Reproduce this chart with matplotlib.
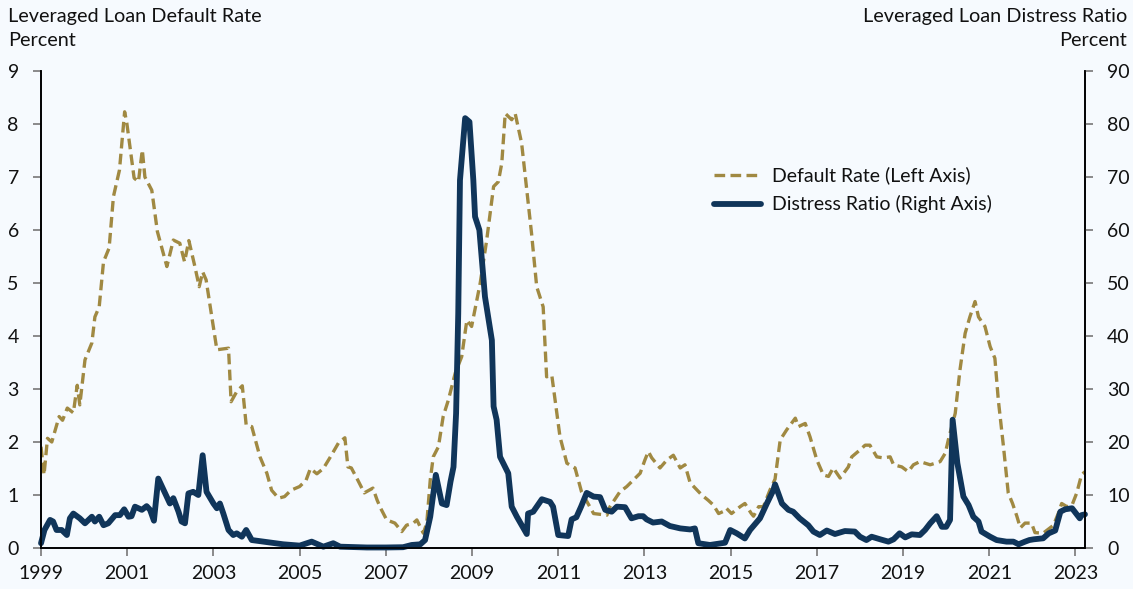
import matplotlib
matplotlib.use("Agg")
import matplotlib.pyplot as plt
import numpy as np

# Leveraged loan default rate (percent, left axis)
default_years = [1999.0, 1999.07, 1999.15, 1999.25, 1999.42, 1999.5, 1999.61, 1999.75, 1999.84, 1999.9,
                 2000.02, 2000.18, 2000.25, 2000.35, 2000.45, 2000.58, 2000.68, 2000.82, 2000.94, 2000.99,
                 2001.16, 2001.26, 2001.35, 2001.41, 2001.57, 2001.7, 2001.92, 2002.07, 2002.22, 2002.33,
                 2002.43, 2002.57, 2002.67, 2002.75, 2002.83, 2003.08, 2003.35, 2003.41, 2003.54, 2003.67,
                 2003.76, 2003.89, 2004.08, 2004.24, 2004.35, 2004.51, 2004.65, 2004.8, 2005.0, 2005.15,
                 2005.25, 2005.4, 2005.55, 2005.7, 2005.9, 2006.05, 2006.12, 2006.2, 2006.35, 2006.5,
                 2006.7, 2006.8, 2006.88, 2007.02, 2007.21, 2007.37, 2007.48, 2007.64, 2007.72, 2007.87,
                 2007.95, 2008.03, 2008.1, 2008.22, 2008.33, 2008.45, 2008.61, 2008.76, 2008.88, 2008.99,
                 2009.19, 2009.34, 2009.5, 2009.61, 2009.69, 2009.77, 2009.92, 2010.0, 2010.15, 2010.27,
                 2010.38, 2010.5, 2010.65, 2010.73, 2010.85, 2011.04, 2011.2, 2011.39, 2011.54, 2011.82,
                 2012.13, 2012.2, 2012.43, 2012.59, 2012.74, 2012.9, 2013.01, 2013.09, 2013.17, 2013.36,
                 2013.52, 2013.67, 2013.83, 2013.94, 2014.06, 2014.33, 2014.48, 2014.6, 2014.72, 2014.83,
                 2014.9, 2015.02, 2015.22, 2015.33, 2015.48, 2015.53, 2015.65, 2015.76, 2015.91, 2016.03,
                 2016.15, 2016.3, 2016.5, 2016.57, 2016.73, 2016.84, 2017.0, 2017.15, 2017.27, 2017.38,
                 2017.54, 2017.73, 2017.81, 2018.0, 2018.12, 2018.23, 2018.39, 2018.54, 2018.7, 2018.78,
                 2018.97, 2019.12, 2019.24, 2019.39, 2019.63, 2019.86, 2019.98, 2020.05, 2020.21, 2020.32,
                 2020.44, 2020.55, 2020.67, 2020.75, 2020.9, 2021.02, 2021.13, 2021.21, 2021.33, 2021.44,
                 2021.54, 2021.64, 2021.72, 2021.83, 2021.98, 2022.06, 2022.25, 2022.41, 2022.49, 2022.6,
                 2022.68, 2022.8, 2022.92, 2023.03, 2023.14, 2023.22]
default_rate = [1.91, 1.38, 2.07, 2.0, 2.48, 2.41, 2.64, 2.55, 3.07, 2.7,
                3.55, 3.87, 4.36, 4.55, 5.4, 5.66, 6.63, 7.13, 8.23, 8.02,
                6.98, 6.91, 7.51, 7.0, 6.75, 5.97, 5.31, 5.81, 5.75, 5.4,
                5.8, 5.31, 4.93, 5.21, 5.06, 3.74, 3.77, 2.76, 2.95, 3.06,
                2.32, 2.29, 1.72, 1.41, 1.09, 0.94, 0.97, 1.09, 1.16, 1.28,
                1.5, 1.4, 1.5, 1.7, 1.98, 2.08, 1.53, 1.51, 1.28, 1.04,
                1.13, 0.9, 0.75, 0.53, 0.47, 0.31, 0.43, 0.47, 0.53, 0.28,
                0.47, 1.28, 1.72, 1.91, 2.48, 2.79, 3.3, 3.61, 4.3, 4.18,
                5.0, 5.81, 6.82, 6.91, 7.26, 8.2, 8.08, 8.2, 7.64, 6.75,
                5.94, 4.93, 4.55, 3.23, 3.26, 2.1, 1.6, 1.51, 1.06, 0.65,
                0.62, 0.78, 1.06, 1.16, 1.28, 1.41, 1.66, 1.82, 1.7, 1.51,
                1.66, 1.75, 1.51, 1.57, 1.23, 1.0, 0.9, 0.81, 0.65, 0.69,
                0.75, 0.65, 0.78, 0.84, 0.65, 0.6, 0.78, 0.78, 1.09, 1.3,
                2.04, 2.23, 2.45, 2.29, 2.35, 2.1, 1.66, 1.38, 1.35, 1.51,
                1.32, 1.53, 1.72, 1.85, 1.94, 1.94, 1.72, 1.7, 1.72, 1.57,
                1.53, 1.44, 1.57, 1.63, 1.57, 1.63, 1.79, 2.04, 2.54, 3.36,
                4.05, 4.36, 4.65, 4.36, 4.18, 3.8, 3.58, 2.79, 1.91, 1.04,
                0.84, 0.6, 0.38, 0.47, 0.47, 0.29, 0.28, 0.38, 0.43, 0.65,
                0.84, 0.78, 0.81, 1.04, 1.38, 1.44]

# Leveraged loan distress ratio (percent, right axis)
distress_years = [1999.0, 1999.08, 1999.21, 1999.28, 1999.36, 1999.48, 1999.6, 1999.67, 1999.75, 1999.9,
                  2000.02, 2000.18, 2000.25, 2000.35, 2000.45, 2000.56, 2000.72, 2000.83, 2000.93, 2001.03,
                  2001.1, 2001.18, 2001.34, 2001.45, 2001.53, 2001.62, 2001.72, 2001.88, 2001.99, 2002.07,
                  2002.19, 2002.26, 2002.34, 2002.42, 2002.53, 2002.65, 2002.75, 2002.84, 2003.0, 2003.08,
                  2003.15, 2003.23, 2003.35, 2003.46, 2003.54, 2003.66, 2003.76, 2003.89, 2004.16, 2004.62,
                  2005.0, 2005.28, 2005.55, 2005.78, 2005.94, 2006.56, 2007.0, 2007.4, 2007.6, 2007.8,
                  2007.91, 2008.03, 2008.16, 2008.3, 2008.41, 2008.5, 2008.57, 2008.63, 2008.68, 2008.72,
                  2008.84, 2008.94, 2009.03, 2009.07, 2009.17, 2009.3, 2009.46, 2009.5, 2009.57, 2009.65,
                  2009.84, 2009.92, 2010.04, 2010.27, 2010.3, 2010.42, 2010.62, 2010.81, 2010.88, 2011.0,
                  2011.23, 2011.31, 2011.42, 2011.53, 2011.66, 2011.82, 2011.97, 2012.09, 2012.24, 2012.36,
                  2012.55, 2012.7, 2012.86, 2012.97, 2013.05, 2013.2, 2013.4, 2013.59, 2013.83, 2014.06,
                  2014.17, 2014.25, 2014.52, 2014.79, 2014.87, 2014.99, 2015.14, 2015.33, 2015.45, 2015.68,
                  2015.84, 2015.99, 2016.03, 2016.19, 2016.34, 2016.45, 2016.6, 2016.8, 2016.92, 2017.07,
                  2017.23, 2017.42, 2017.65, 2017.88, 2018.0, 2018.15, 2018.27, 2018.47, 2018.66, 2018.78,
                  2018.92, 2019.05, 2019.2, 2019.39, 2019.51, 2019.63, 2019.78, 2019.9, 2020.0, 2020.09,
                  2020.15, 2020.26, 2020.4, 2020.52, 2020.63, 2020.75, 2020.82, 2021.02, 2021.17, 2021.4,
                  2021.56, 2021.68, 2021.83, 2021.93, 2022.03, 2022.25, 2022.38, 2022.53, 2022.65, 2022.76,
                  2022.92, 2023.1, 2023.14, 2023.22]
distress_ratio = [0.9, 3.4, 5.3, 5.0, 3.4, 3.4, 2.45, 5.6, 6.5, 5.6,
                  4.66, 5.9, 5.0, 5.9, 4.3, 4.66, 6.2, 6.2, 7.3, 5.9,
                  6.0, 7.8, 7.2, 7.9, 7.2, 5.15, 13.1, 10.3, 8.4, 9.4,
                  6.85, 5.0, 4.66, 10.3, 10.6, 10.0, 17.5, 10.6, 8.4, 7.5,
                  8.4, 6.5, 3.4, 2.45, 2.77, 2.13, 3.4, 1.5, 1.2, 0.7,
                  0.45, 1.2, 0.25, 0.9, 0.25, 0.1, 0.1, 0.15, 0.57, 0.7,
                  1.5, 5.9, 13.8, 8.4, 8.1, 12.5, 15.3, 25.4, 44.3, 69.4,
                  81.1, 80.4, 69.4, 62.5, 60.0, 47.4, 39.2, 26.7, 24.2, 17.2,
                  14.1, 7.8, 5.9, 2.64, 6.5, 6.85, 9.2, 8.7, 7.8, 2.45,
                  2.26, 5.4, 5.8, 7.8, 10.4, 9.7, 9.6, 7.2, 6.85, 7.8,
                  7.7, 5.6, 6.0, 6.0, 5.4, 4.8, 5.0, 4.15, 3.7, 3.5,
                  3.7, 0.9, 0.57, 0.9, 1.0, 3.4, 2.77, 1.8, 3.4, 5.6,
                  8.4, 10.9, 12.0, 8.4, 7.2, 6.85, 5.6, 4.3, 3.1, 2.45,
                  3.3, 2.64, 3.2, 3.1, 2.13, 1.5, 2.13, 1.64, 1.2, 1.64,
                  2.77, 2.0, 2.58, 2.45, 3.4, 4.66, 6.0, 4.0, 4.0, 5.3,
                  24.2, 16.0, 9.7, 8.1, 5.9, 5.0, 3.1, 2.13, 1.5, 1.2,
                  1.2, 0.7, 1.2, 1.5, 1.64, 1.83, 2.77, 3.3, 6.85, 7.3,
                  7.5, 5.6, 6.2, 6.35]

year_ticks = list(range(1999, 2024, 2))
left_ticks = list(range(0, 10))
right_ticks = list(range(0, 100, 10))

gold = "#A08942"
navy = "#10355A"
bg = "#F6FAFE"

plt.rcParams['font.family'] = ['Lato', 'DejaVu Sans']

fig = plt.figure(figsize=(11.33, 5.89), dpi=100, facecolor=bg)
ax = fig.add_axes([0.0362, 0.0696, 0.9214, 0.8099])
ax.set_facecolor(bg)
ax2 = ax.twinx()

ln1, = ax.plot(default_years, default_rate, color=gold, linewidth=2.4,
               dashes=(3.2, 1.6), label="Default Rate (Left Axis)")
ln2, = ax2.plot(distress_years, distress_ratio, color=navy, linewidth=4.2,
                solid_capstyle='round', solid_joinstyle='round',
                label="Distress Ratio (Right Axis)", clip_on=False)

ax.set_xlim(1999, 2023.22)
ax.set_ylim(0, 9)
ax2.set_ylim(0, 90)
ax.set_xticks(year_ticks)
ax.set_yticks(left_ticks)
ax2.set_yticks(right_ticks)

for a in (ax, ax2):
    a.spines['top'].set_visible(False)
    for s in ('left', 'right', 'bottom'):
        a.spines[s].set_color('black')
        a.spines[s].set_linewidth(1.2)
    a.tick_params(axis='both', labelsize=14, colors='#777777', labelcolor='#111111',
                  length=6, width=1.2, direction='out')
ax.tick_params(axis='x', pad=6)
ax.tick_params(axis='y', pad=10)
ax2.tick_params(axis='y', pad=10)

fig.text(0.007, 0.986, "Leveraged Loan Default Rate\nPercent", ha='left', va='top',
         fontsize=14.3, color='#111111', linespacing=1.45)
fig.text(0.995, 0.986, "Leveraged Loan Distress Ratio\nPercent", ha='right', va='top',
         fontsize=14.3, color='#111111', linespacing=1.45, multialignment='right')

leg = ax.legend(handles=[ln1, ln2], loc='upper left', bbox_to_anchor=(0.628, 0.836),
                frameon=False, fontsize=14, handlelength=2.4, handletextpad=0.6,
                labelspacing=0.55)
for t in leg.get_texts():
    t.set_color('#111111')

fig.savefig("out.png", dpi=100, facecolor=bg)
